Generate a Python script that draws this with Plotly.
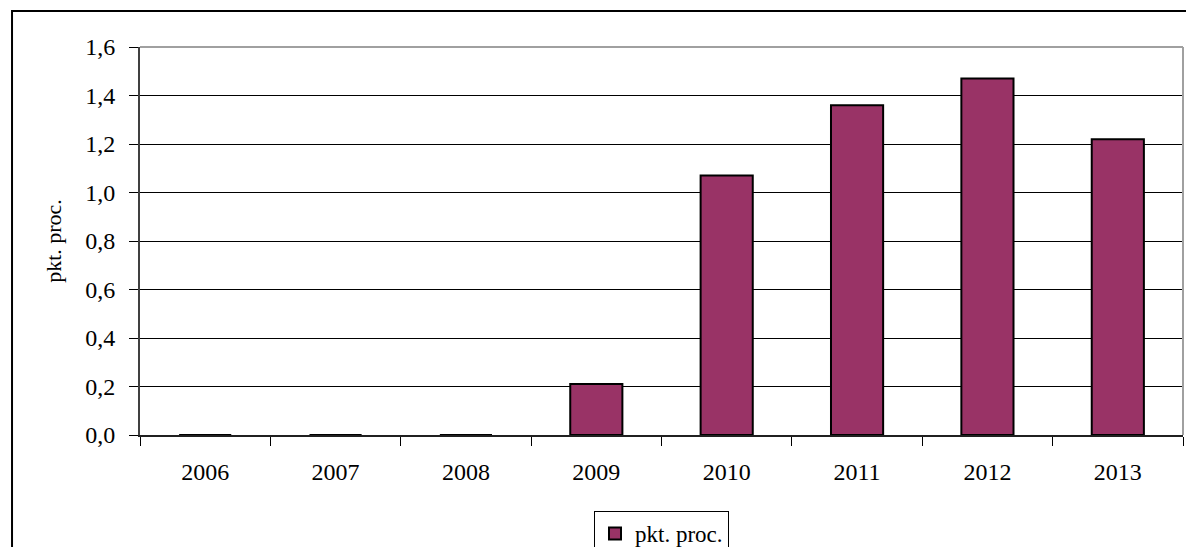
import plotly.graph_objects as go

years = ["2006", "2007", "2008", "2009", "2010", "2011", "2012", "2013"]
values = [0.0, 0.0, 0.0, 0.21, 1.07, 1.36, 1.47, 1.22]
series_name = "pkt. proc."
y_ticks = [0.0, 0.2, 0.4, 0.6, 0.8, 1.0, 1.2, 1.4, 1.6]
y_tick_text = ["0,0", "0,2", "0,4", "0,6", "0,8", "1,0", "1,2", "1,4", "1,6"]

FONT = "Times New Roman, Liberation Serif, serif"

fig = go.Figure()
fig.add_trace(go.Bar(
    x=years,
    y=values,
    name=series_name,
    width=0.4,
    marker=dict(color="#993366", line=dict(color="black", width=2)),
    showlegend=True,
))

fig.update_layout(
    width=1186,
    height=547,
    margin=dict(l=140, r=3, t=47, b=112, autoexpand=False),
    paper_bgcolor="white",
    plot_bgcolor="white",
    font=dict(family=FONT, color="black", size=24),
    bargap=0.6,
    showlegend=True,
    legend=dict(
        x=0.5, xanchor="center",
        y=-0.196, yanchor="top",
        orientation="h",
        bordercolor="black", borderwidth=1,
        bgcolor="white",
        font=dict(family=FONT, size=23),
    ),
    xaxis=dict(
        type="category",
        showgrid=False,
        showline=True,
        linecolor="#202020",
        linewidth=2,
        ticks="outside",
        tickson="boundaries",
        ticklen=9,
        tickcolor="black",
        tickfont=dict(family=FONT, size=24),
        ticklabelstandoff=14,
        range=[-0.5, 7.5],
    ),
    yaxis=dict(
        range=[0, 1.6],
        tickvals=y_ticks,
        ticktext=y_tick_text,
        showgrid=True,
        gridcolor="black",
        gridwidth=1,
        zeroline=False,
        showline=True,
        linecolor="#404040",
        linewidth=2,
        ticks="outside",
        ticklen=9,
        tickcolor="black",
        tickfont=dict(family=FONT, size=24),
        ticklabelstandoff=9,
        title=dict(text="pkt. proc.", font=dict(family=FONT, size=22), standoff=18),
    ),
)

# plot-area frame (top and right edges in grey)
fig.add_shape(type="line", xref="paper", yref="paper", x0=0, x1=1, y0=1, y1=1,
              line=dict(color="#a0a0a0", width=2))
fig.add_shape(type="line", xref="paper", yref="paper", x0=1, x1=1, y0=0, y1=1,
              line=dict(color="#a0a0a0", width=2))

# outer chart border
fig.add_shape(type="rect", xref="paper", yref="paper",
              x0=-0.1227, x1=1.02, y0=-0.35, y1=1.0928,
              line=dict(color="black", width=2), layer="below")

fig.write_html("out.html")
